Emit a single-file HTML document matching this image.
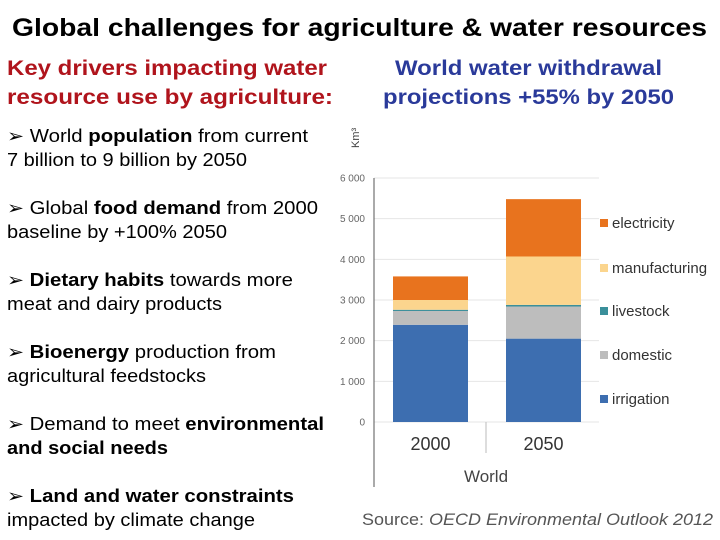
<!DOCTYPE html>
<html><head><meta charset="utf-8"><style>
html,body{margin:0;padding:0;background:#fff;}
svg{display:block;font-family:"Liberation Sans",sans-serif;}
</style></head><body>
<svg id="s" width="720" height="540" viewBox="0 0 720 540">
<text x="12" y="36" font-size="25" font-weight="bold" textLength="695" lengthAdjust="spacingAndGlyphs">Global challenges for agriculture &amp; water resources</text>
<g fill="#b0141c" font-size="21" font-weight="bold">
<text x="7" y="75" textLength="320" lengthAdjust="spacingAndGlyphs">Key drivers impacting water</text>
<text x="7" y="104" textLength="326" lengthAdjust="spacingAndGlyphs">resource use by agriculture:</text>
</g>
<g fill="#2a3a9a" font-size="21" font-weight="bold">
<text x="395" y="75" textLength="267" lengthAdjust="spacingAndGlyphs">World water withdrawal</text>
<text x="383" y="104" textLength="291" lengthAdjust="spacingAndGlyphs">projections +55% by 2050</text>
</g>
<g font-size="18" fill="#000">
<text x="7" y="142" textLength="301" lengthAdjust="spacingAndGlyphs">➢  World <tspan font-weight="bold">population</tspan> from current</text>
<text x="7" y="166" textLength="240" lengthAdjust="spacingAndGlyphs">7 billion to 9 billion by 2050</text>
<text x="7" y="214" textLength="311" lengthAdjust="spacingAndGlyphs">➢  Global <tspan font-weight="bold">food demand</tspan> from 2000</text>
<text x="7" y="238" textLength="220" lengthAdjust="spacingAndGlyphs">baseline by +100% 2050</text>
<text x="7" y="286" textLength="286" lengthAdjust="spacingAndGlyphs">➢  <tspan font-weight="bold">Dietary habits</tspan> towards more</text>
<text x="7" y="310" textLength="215" lengthAdjust="spacingAndGlyphs">meat and dairy products</text>
<text x="7" y="358" textLength="269" lengthAdjust="spacingAndGlyphs">➢  <tspan font-weight="bold">Bioenergy</tspan> production from</text>
<text x="7" y="382" textLength="199" lengthAdjust="spacingAndGlyphs">agricultural feedstocks</text>
<text x="7" y="430" textLength="317" lengthAdjust="spacingAndGlyphs">➢  Demand to meet <tspan font-weight="bold">environmental</tspan></text>
<text x="7" y="454" textLength="161" lengthAdjust="spacingAndGlyphs" font-weight="bold">and social needs</text>
<text x="7" y="502" textLength="287" lengthAdjust="spacingAndGlyphs">➢  <tspan font-weight="bold">Land and water constraints</tspan></text>
<text x="7" y="526" textLength="248" lengthAdjust="spacingAndGlyphs">impacted by climate change</text>
</g>
<text x="362" y="525" font-size="17" fill="#555" textLength="351" lengthAdjust="spacingAndGlyphs">Source: <tspan font-style="italic">OECD Environmental Outlook 2012</tspan></text>
<text transform="translate(359,148) rotate(-90)" font-size="11" fill="#444">Km³</text>
<g id="chart"></g>
</svg>
<script>
const categories=["2000","2050"];
const seriesNames=["irrigation","domestic","livestock","manufacturing","electricity"];
const irrigation=[2390,2050];
const domestic=[340,790];
const livestock=[30,40];
const manufacturing=[240,1190];
const electricity=[580,1410];
const yTicks=[0,1000,2000,3000,4000,5000,6000];
const yTickLabels=["0","1 000","2 000","3 000","4 000","5 000","6 000"];
const series=[irrigation,domestic,livestock,manufacturing,electricity];
const colors=["#3d6eb0","#bdbdbd","#3a8f9a","#fbd58e","#e8731e"];
const NS="http://www.w3.org/2000/svg";
const g=document.getElementById('chart');
const y0=422,y1=178,yMax=6000;
const yS=v=>y0-(v/yMax)*(y0-y1);
const bx=[393,506],bw=75;
function mk(t,a){const e=document.createElementNS(NS,t);for(const k in a)e.setAttribute(k,a[k]);g.appendChild(e);return e;}
yTicks.forEach((v,i)=>{
 const l=mk('line',{x1:374,x2:599,y1:yS(v),y2:yS(v),stroke:'#e6e6e6','stroke-width':1});
 
 
 const t=mk('text',{x:365,y:yS(v)+3.5,'font-size':10,fill:'#666','text-anchor':'end'});
 t.textContent=yTickLabels[i];
 
 
});
const ax=mk('line',{x1:374,x2:374,y1:178,y2:487,stroke:'#555','stroke-width':1});


const dv=mk('line',{x1:486,x2:486,y1:422,y2:453,stroke:'#bbb','stroke-width':1});


categories.forEach((c,i)=>{
 let acc=0;
 series.forEach((s,k)=>{
  const top=yS(acc+s[i]),bot=yS(acc);
  const r=mk('rect',{x:bx[i],y:top,width:bw,height:Math.max(0,bot-top),fill:colors[k]});
  
  
  acc+=s[i];
 });
 const t=mk('text',{x:bx[i]+bw/2,y:450,'font-size':18,fill:'#333','text-anchor':'middle'});
 t.textContent=c;
 
 
});
const w=mk('text',{x:486,y:482,'font-size':17,fill:'#444','text-anchor':'middle'});
w.textContent='World';


const legY=[399,355,311,268,223];
seriesNames.forEach((n,k)=>{
 const r=mk('rect',{x:600,y:legY[k]-4,width:8,height:8,fill:colors[k]});
 
 
 const t=mk('text',{x:612,y:legY[k]+5,'font-size':15,fill:'#333'});
 t.textContent=n;
 
 
});
</script>
</body></html>
